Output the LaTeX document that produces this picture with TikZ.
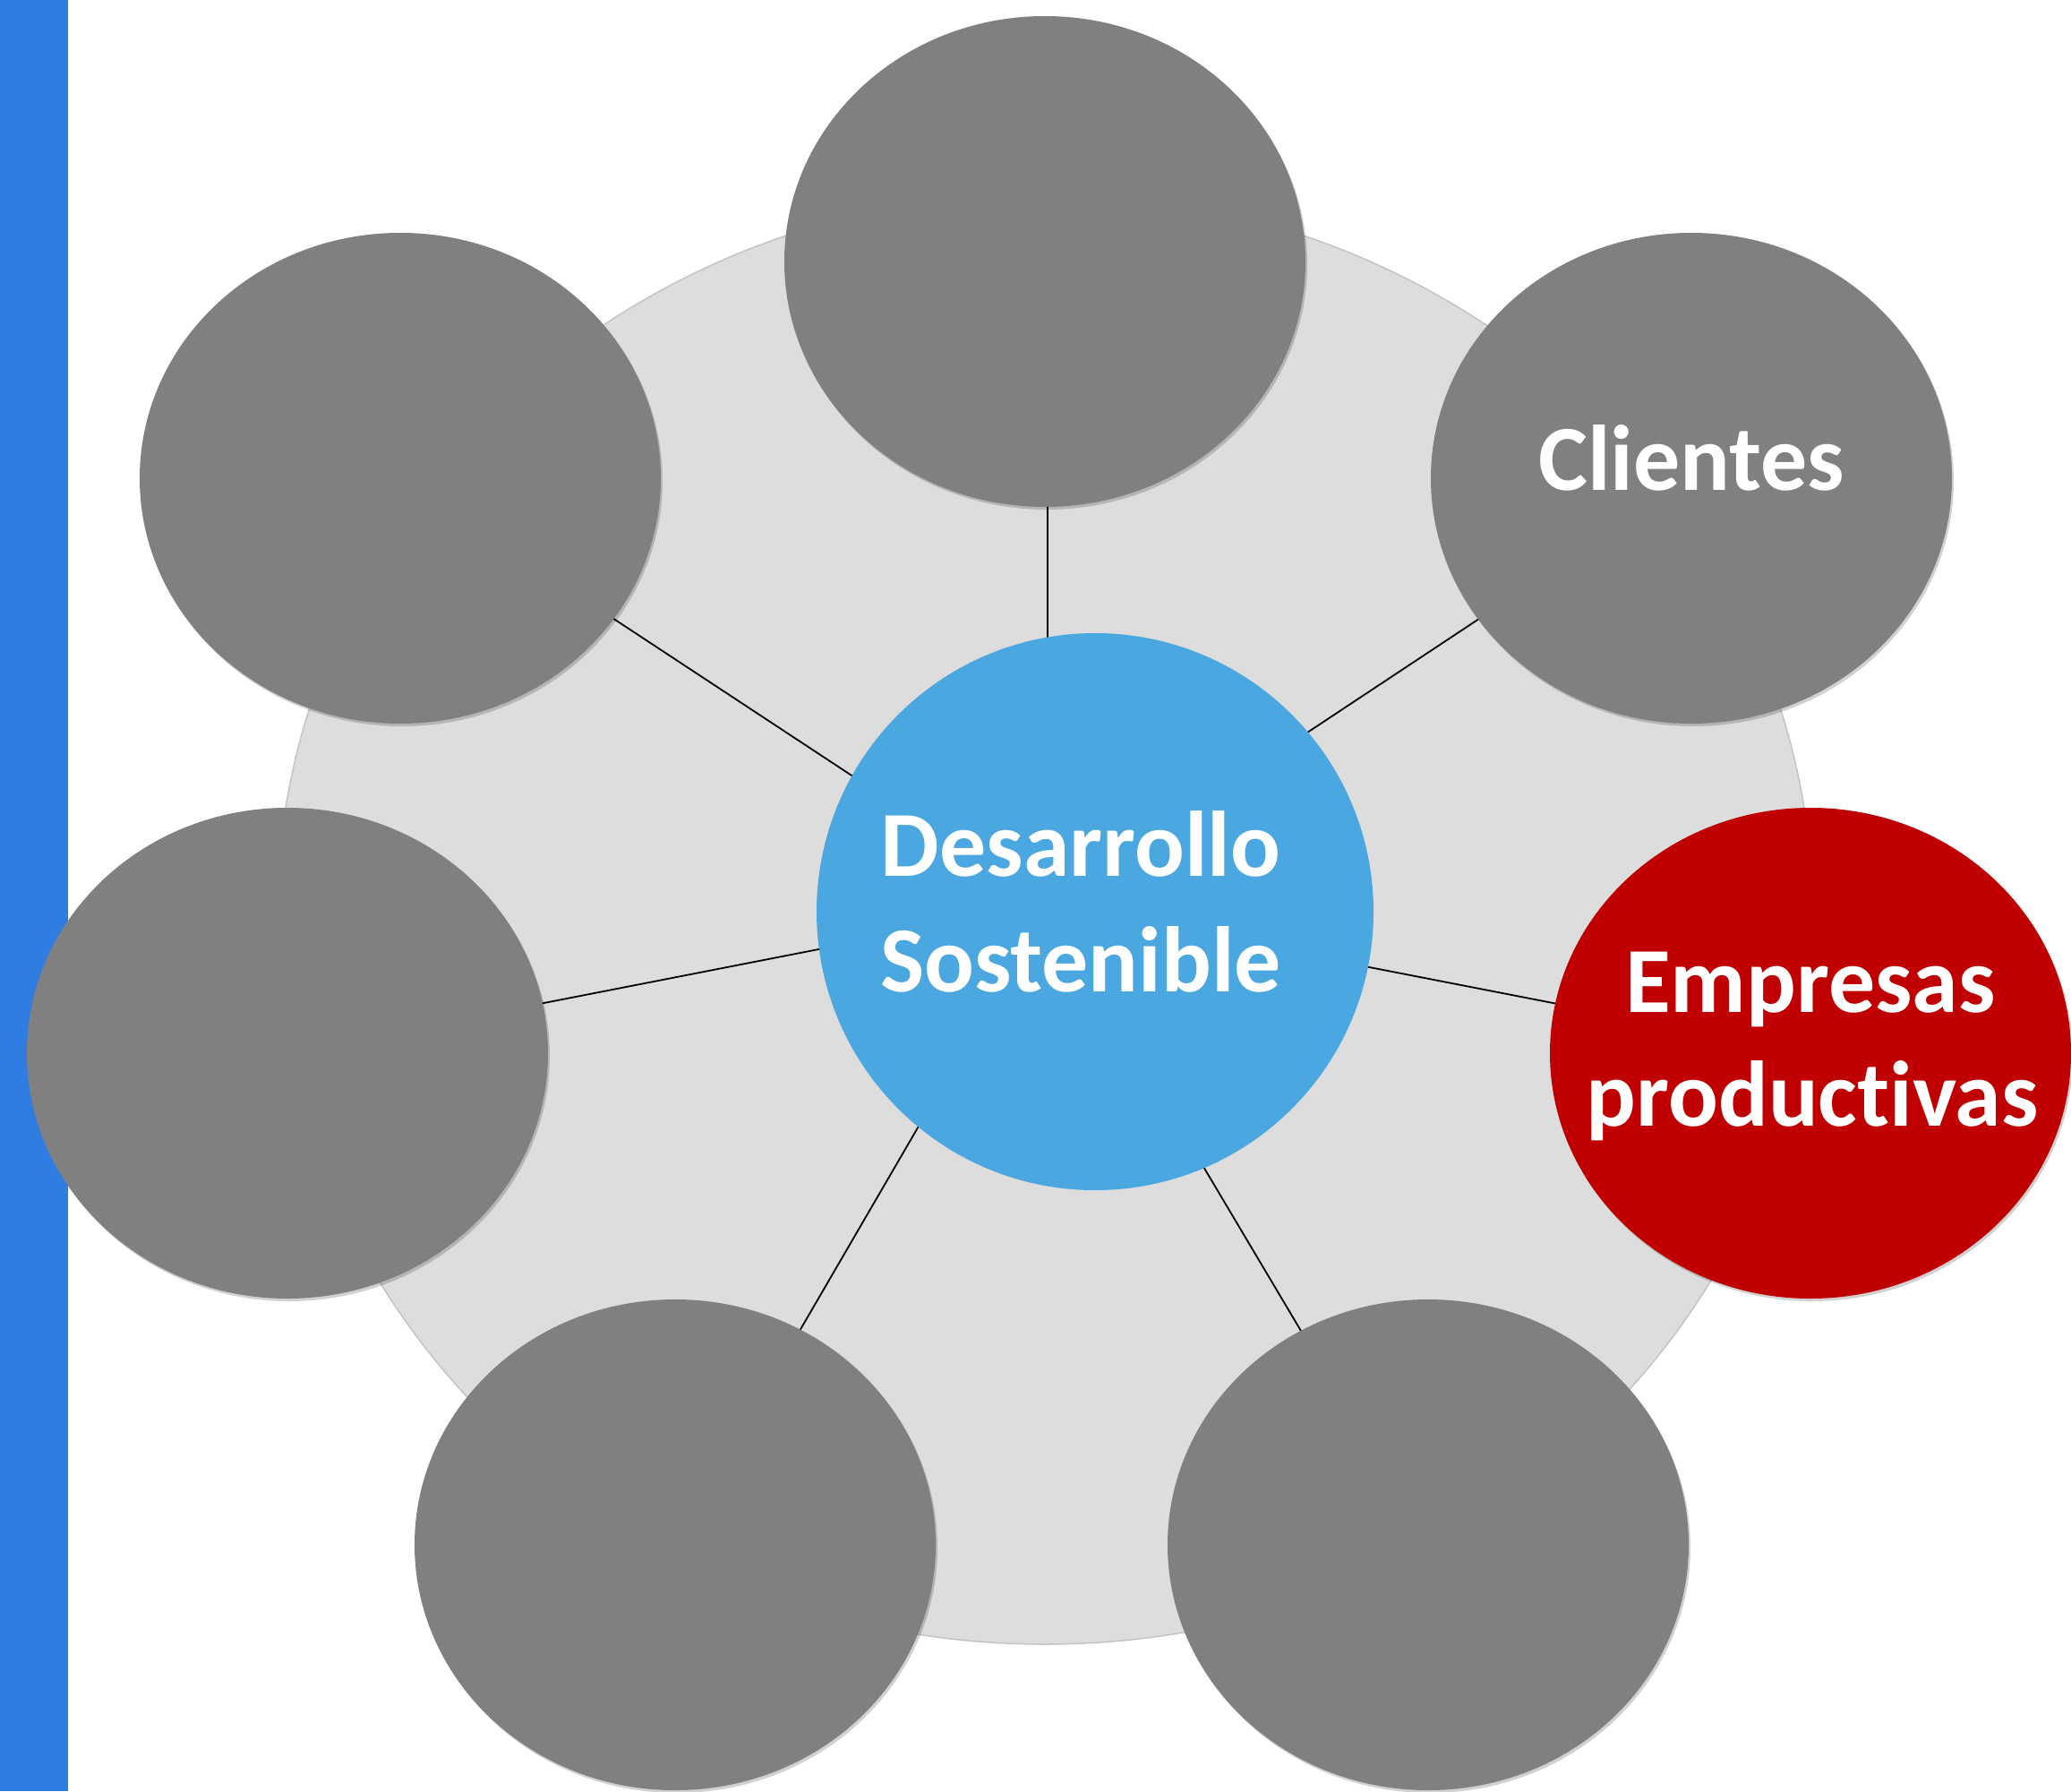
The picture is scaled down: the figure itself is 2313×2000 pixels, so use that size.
\documentclass[tikz,border=0pt]{standalone}
\usepackage{fontspec}
\setmainfont{Carlito}[Ligatures={NoCommon,NoRare,NoContextual}]
\usetikzlibrary{shapes.geometric,shadows}
\definecolor{barblue}{HTML}{2F7DE0}
\definecolor{bggray}{HTML}{DDDDDD}
\definecolor{bgedge}{HTML}{C4C4C4}
\definecolor{satgray}{HTML}{808080}
\definecolor{satred}{HTML}{C00000}
\definecolor{hubblue}{HTML}{4BA7DF}
\pgfdeclarelayer{ringlayer}
\pgfdeclarelayer{spokelayer}
\pgfsetlayers{ringlayer,spokelayer,main}
\begin{document}
\begin{tikzpicture}[x=1pt,y=-1pt,
  sat/.style={ellipse, minimum width=582pt, minimum height=548pt, inner sep=0pt,
    fill=satgray, drop shadow={shadow xshift=2pt, shadow yshift=-3pt, opacity=0.18, fill=black}},
  hubnode/.style={circle, minimum size=622pt, inner sep=0pt, fill=hubblue},
  ringnode/.style={ellipse, minimum width=1716pt, minimum height=1620pt, inner sep=0pt,
    fill=bggray, draw=bgedge, line width=1.5pt},
  spoke/.style={draw=black, line width=1.8pt},
  lbl/.style={text=white, font=\bfseries\fontsize{104}{127}\selectfont, inner sep=0pt, anchor=base}]
\useasboundingbox (0,0) rectangle (2313,2000);
\begin{pgfonlayer}{ringlayer}
  \fill[barblue] (0,0) rectangle (76,2000);
  \node[ringnode] (ring) at (1167,1026) {};
\end{pgfonlayer}
\coordinate (hubc) at (1170,1010);
% satellites
\node[sat] (top) at (1167,292) {};
\node[sat] (tl) at (447,534) {};
\node[sat] (tr) at (1889,534) {};
\node[sat] (lft) at (321,1176) {};
\node[sat, fill=satred] (rgt) at (2022,1176) {};
\node[sat] (bl) at (754,1725) {};
\node[sat] (br) at (1595,1725) {};
% hub
\node[hubnode] (hub) at (1223,1018) {};
% spokes
\begin{pgfonlayer}{spokelayer}
  \draw[spoke] (hubc) -- (hubc |- top.center);
  \foreach \s in {tl,tr,lft,rgt,bl,br}
    \draw[spoke] (hubc) -- (\s.center);
\end{pgfonlayer}
% labels
\node[lbl] (hubt1) at (1207,978) {Desarrollo};
\node[lbl] (hubt2) at (1207,1107) {Sostenible};
\node[lbl] (trt) at (1889,547) {Clientes};
\node[lbl] (rgt1) at (2022,1130) {Empresas};
\node[lbl] (rgt2) at (2024,1257) {productivas};
\end{tikzpicture}
\end{document}
